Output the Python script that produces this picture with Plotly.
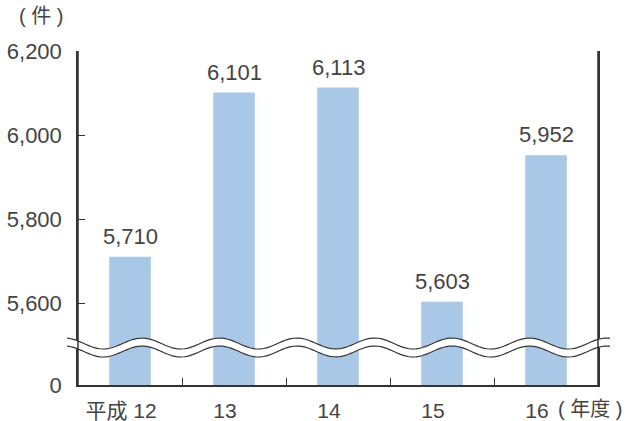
import numpy as np
import plotly.graph_objects as go

categories = ["平成 12", "13", "14", "15", "16"]
values = [5710, 6101, 6113, 5603, 5952]
value_labels = ["5,710", "6,101", "6,113", "5,603", "5,952"]
y_tick_values = [0, 5600, 5800, 6000, 6200]
y_tick_labels = ["0", "5,600", "5,800", "6,000", "6,200"]

# broken axis: the "0" baseline is shown just below 5,600
BREAK_BASE = 5405
def disp(v):
    return BREAK_BASE if v == 0 else v

FONT = "Liberation Sans, Noto Sans CJK JP, sans-serif"
TXT = "#444444"
W, H = 628, 421
L, R, T, B = 78, 30, 51, 36
pw, ph = W - L - R, H - T - B

xs = list(range(len(categories)))
disp_vals = [disp(v) for v in values]

fig = go.Figure()
fig.add_trace(go.Bar(
    x=xs, y=[v - BREAK_BASE for v in disp_vals], base=BREAK_BASE,
    marker=dict(color="#a9c8e8", line=dict(width=0)),
    width=0.4, hoverinfo="skip",
))

def px2paper(xp, yp):
    return (xp - L) / pw, (H - B - yp) / ph

annotations = []
for x, v, lab in zip(xs, disp_vals, value_labels):
    annotations.append(dict(x=x, y=v, text=lab, showarrow=False, yanchor="bottom",
                            yshift=6, font=dict(family=FONT, size=22, color=TXT)))
ax, ay = px2paper(624, 409)
annotations.append(dict(xref="paper", yref="paper", x=ax, y=ay,
                        text="( 年度 )", showarrow=False, xanchor="right", yanchor="middle",
                        font=dict(family=FONT, size=20, color=TXT)))
ax, ay = px2paper(41, 16)
annotations.append(dict(xref="paper", yref="paper", x=ax, y=ay,
                        text="( 件 )", showarrow=False, xanchor="center", yanchor="middle",
                        font=dict(family=FONT, size=20, color=TXT)))

# wavy break decoration (pixel space -> paper)
xp = np.linspace(67, 610, 200)
up = 343.5 - 5.5 * np.cos(2 * np.pi * (xp - 142) / 77.5)
lo = up + 8
def path_of(xarr, yarr, close=False):
    pts = [px2paper(a, b) for a, b in zip(xarr, yarr)]
    s = "M " + " L ".join(f"{a:.5f},{b:.5f}" for a, b in pts)
    return s + (" Z" if close else "")

fill_path = path_of(np.concatenate([xp, xp[::-1]]), np.concatenate([up - 0.5, (lo + 0.5)[::-1]]), close=True)
shapes = [
    dict(type="path", xref="paper", yref="paper", path=fill_path, fillcolor="white",
         line=dict(width=0), layer="above"),
    dict(type="path", xref="paper", yref="paper", path=path_of(xp, up),
         line=dict(color="#333333", width=1.2), layer="above"),
    dict(type="path", xref="paper", yref="paper", path=path_of(xp, lo),
         line=dict(color="#333333", width=1.2), layer="above"),
    dict(type="line", xref="paper", yref="paper", x0=0, x1=0, y0=0, y1=1,
         line=dict(color="#333333", width=1.5), layer="above"),
    dict(type="line", xref="paper", yref="paper", x0=1, x1=1, y0=0, y1=1,
         line=dict(color="#333333", width=1.5), layer="above"),
]

fig.update_layout(
    width=W, height=H,
    margin=dict(l=L, r=R, t=T, b=B, pad=0, autoexpand=False),
    paper_bgcolor="white", plot_bgcolor="white",
    showlegend=False,
    annotations=annotations, shapes=shapes,
    xaxis=dict(
        range=[-0.5, len(categories) - 0.5], tickmode="array", tickvals=xs, ticktext=categories,
        ticks="", showgrid=False, zeroline=False, showline=True, linecolor="#333333", linewidth=1.5,
        tickfont=dict(family=FONT, size=21, color=TXT), ticklabelshift=-9, ticklabelstandoff=6,
        minor=dict(tickmode="array", tickvals=[0.5, 1.5, 2.5, 3.5], ticks="inside", ticklen=7,
                   tickcolor="#333333", tickwidth=1.2, showgrid=False),
        fixedrange=True, automargin=False,
    ),
    yaxis=dict(
        range=[BREAK_BASE, 6200], tickmode="array", tickvals=[disp(v) for v in y_tick_values],
        ticktext=y_tick_labels, ticks="inside", ticklen=7, tickcolor="#333333", tickwidth=1.2,
        showgrid=False, zeroline=False, showline=True, linecolor="#333333", linewidth=1.5,
        mirror=True, tickfont=dict(family=FONT, size=22, color=TXT), ticklabelstandoff=10,
        fixedrange=True, automargin=False,
    ),
)

fig.write_html("out.html", config={"displayModeBar": False},
               post_script="document.body.style.margin='0';document.body.style.overflow='hidden';")
